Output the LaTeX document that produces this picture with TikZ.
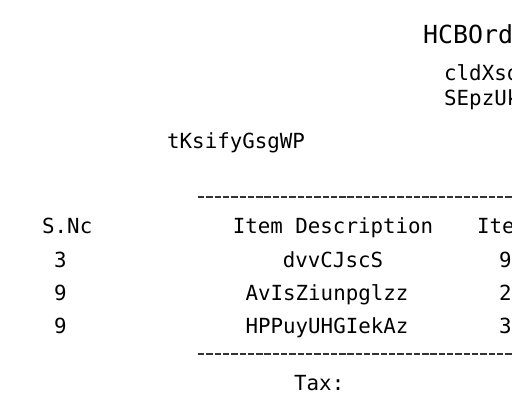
\documentclass[tikz,border=0pt]{standalone}
\usepackage{fontspec}
\newfontfamily\receiptfont{DejaVu Sans Mono}
\usepackage{tikz}

\begin{document}
\begin{tikzpicture}[x=1pt,y=-1pt]
				\tikzstyle{every node}=[inner sep=0pt,anchor=base west,text=black,
				font=\receiptfont\fontsize{20.8}{24}\selectfont]
				\tikzstyle{title}=[font=\receiptfont\fontsize{24.9}{28}\selectfont]
				\tikzstyle{rule}=[draw=black!80,line width=1.6pt,dash pattern=on 6.4pt off 1.9pt]
				\useasboundingbox (0,0) rectangle (512,400);
				\clip (0,0) rectangle (512,400);
				% shop header
				\node[title] (shop) at (423,43) {HCBOrd};
				\node (addr1) at (444,80) {cldXso};
				\node (addr2) at (444,105) {SEpzUk};
				\node (cust) at (167,148) {tKsifyGsgWP};
				% table
				\coordinate (rule1a) at (198,197);
				\coordinate (rule1b) at (512,197);
				\draw[rule] (rule1a) -- (rule1b);
				\node (hsno) at (42,233) {S.Nc};
				\node[anchor=base] (hdesc) at (333,233) {Item Description};
				\node (hprice) at (477,233) {Item Price};
				\node (sno1) at (54,267) {3};
				\node (sno2) at (54,300) {9};
				\node (sno3) at (54,333) {9};
				\node[anchor=base] (desc1) at (333,267) {dvvCJscS};
				\node[anchor=base] (desc2) at (327,300) {AvIsZiunpglzz};
				\node[anchor=base] (desc3) at (327,333) {HPPuyUHGIekAz};
				\node (price1) at (499,267) {9};
				\node (price2) at (499,300) {2};
				\node (price3) at (499,333) {3};
				\coordinate (rule2a) at (198,354);
				\coordinate (rule2b) at (512,354);
				\draw[rule] (rule2a) -- (rule2b);
				\node (tax) at (294,390) {Tax:};
\end{tikzpicture}
\end{document}
